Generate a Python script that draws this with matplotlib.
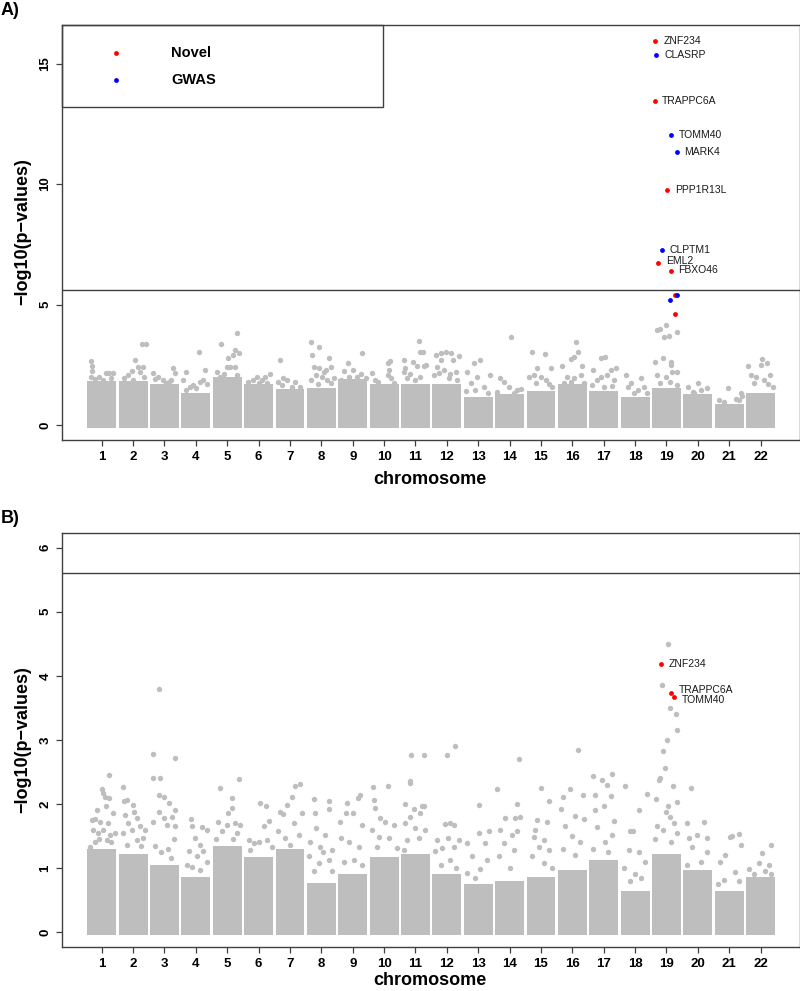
import matplotlib
matplotlib.use("Agg")
import matplotlib.pyplot as plt
from matplotlib.patches import Rectangle

plt.rcParams['font.family'] = ['Liberation Sans', 'DejaVu Sans']

# ---------------- data ----------------
chromosomes = list(range(1, 23))
threshold = 5.6

# Panel A: height of the dense (solid) part of each chromosome's cloud
a_band = [1.73, 1.73, 1.59, 1.24, 1.87, 1.59, 1.38, 1.45, 1.80, 1.59, 1.59,
          1.59, 1.04, 1.18, 1.31, 1.59, 1.31, 1.04, 1.45, 1.18, 0.76, 1.24]
# Panel A: scattered grey points above the dense part (offset within chromosome, -log10 p)
a_scatter = {
    1: [(-0.35, 2.67), (-0.32, 2.45), (-0.3, 2.25), (-0.33, 2.0), (-0.08, 2.0), (0.13, 2.14), (0.24, 2.17),
        (0.35, 2.14), (0.05, 1.87), (-0.2, 1.9), (0.3, 1.95)],
    2: [(0.05, 2.7), (0.27, 3.35), (0.4, 3.35), (-0.3, 1.94), (-0.16, 2.07), (-0.05, 2.25), (0.16, 2.4),
        (0.3, 2.4), (0.34, 2.0), (0.0, 1.87), (0.22, 2.2)],
    3: [(-0.36, 2.14), (-0.2, 2.0), (-0.04, 1.87), (0.06, 1.73), (0.28, 2.35), (0.33, 2.14), (0.22, 1.87),
        (-0.3, 1.9), (0.15, 1.8)],
    4: [(-0.32, 2.2), (0.1, 3.04), (0.29, 2.28), (-0.4, 1.87), (-0.09, 1.66), (0.13, 1.8), (0.23, 1.87),
        (-0.19, 1.59), (0.02, 1.52), (0.35, 1.7), (-0.3, 1.45)],
    5: [(-0.21, 3.37), (0.32, 3.8), (0.24, 3.1), (0.38, 3.0), (0.03, 2.8), (0.17, 2.9), (-0.34, 2.2),
        (-0.02, 2.4), (0.1, 2.4), (0.24, 2.4), (0.3, 2.07), (-0.23, 2.0), (-0.1, 2.1)],
    6: [(-0.06, 2.0), (0.2, 2.0), (0.36, 2.1), (-0.33, 1.8), (-0.17, 1.87), (0.1, 1.87), (0.26, 1.73), (0.0, 1.75)],
    7: [(-0.32, 2.7), (-0.21, 1.94), (-0.37, 1.8), (-0.1, 1.87), (0.16, 1.8), (0.32, 1.59), (0.05, 1.59),
        (-0.25, 1.65)],
    8: [(-0.34, 3.43), (-0.07, 3.25), (-0.29, 2.9), (0.24, 2.77), (-0.23, 2.4), (-0.07, 2.35), (0.14, 2.28),
        (0.3, 2.4), (0.4, 1.94), (-0.18, 2.07), (0.03, 2.0), (0.19, 1.87), (-0.34, 1.87), (0.1, 2.2),
        (-0.12, 1.7), (0.3, 1.75)],
    9: [(-0.15, 2.59), (0.31, 3.0), (-0.28, 2.25), (0.02, 2.28), (0.15, 2.0), (0.41, 1.94), (-0.38, 1.87),
        (-0.12, 2.0), (0.25, 2.1)],
    10: [(-0.39, 2.17), (0.11, 2.56), (0.19, 2.67), (0.14, 2.07), (0.21, 1.94), (-0.18, 1.8), (0.3, 1.73),
         (-0.3, 1.85), (0.17, 2.3)],
    11: [(0.11, 3.49), (0.16, 3.04), (0.24, 3.04), (-0.37, 2.7), (-0.07, 2.6), (0.05, 2.45), (0.27, 2.45),
         (0.35, 2.48), (-0.32, 2.35), (-0.16, 2.1), (0.16, 2.0), (-0.27, 1.94), (-0.35, 2.2), (0.0, 1.85)],
    12: [(-0.36, 2.9), (-0.2, 2.97), (-0.04, 3.04), (0.14, 3.0), (0.2, 2.7), (0.38, 2.85), (-0.2, 2.7),
         (-0.31, 2.4), (-0.1, 2.28), (0.28, 2.2), (-0.41, 2.07), (0.06, 1.94), (0.33, 1.87), (-0.25, 2.15),
         (0.1, 2.1)],
    13: [(0.07, 2.7), (-0.14, 2.56), (-0.35, 2.2), (-0.03, 2.0), (0.37, 2.07), (-0.24, 1.73), (0.18, 1.59),
         (-0.09, 1.45), (0.3, 1.35), (-0.38, 1.4)],
    14: [(0.06, 3.64), (-0.29, 1.94), (-0.18, 1.8), (-0.02, 1.59), (0.24, 1.45), (-0.39, 1.38), (0.14, 1.31),
         (0.35, 1.5)],
    15: [(-0.28, 3.04), (0.12, 2.94), (-0.12, 2.35), (0.31, 2.35), (-0.38, 2.0), (-0.22, 2.07), (-0.01, 2.0),
         (0.15, 1.87), (0.36, 1.59), (-0.17, 1.73), (0.25, 1.7)],
    16: [(0.11, 3.46), (0.19, 3.04), (-0.03, 2.73), (0.05, 2.84), (-0.32, 2.45), (0.32, 2.45), (-0.16, 2.0),
         (0.05, 1.94), (0.27, 2.07), (-0.27, 1.73), (0.37, 1.73), (-0.05, 1.8)],
    17: [(-0.1, 2.77), (0.03, 2.84), (-0.33, 2.28), (0.22, 2.3), (0.38, 2.35), (-0.1, 2.0), (0.12, 2.07),
         (-0.2, 1.87), (0.33, 1.87), (-0.36, 1.66), (0.01, 1.59), (0.25, 1.6)],
    18: [(-0.3, 2.07), (-0.14, 1.73), (0.2, 1.94), (0.27, 1.59), (0.1, 1.45), (0.39, 1.31), (-0.03, 1.31),
         (-0.24, 1.59)],
    19: [(-0.31, 3.94), (-0.2, 3.97), (-0.02, 4.15), (-0.07, 3.67), (0.09, 3.7), (0.33, 3.87), (-0.1, 2.8),
         (0.14, 2.63), (-0.37, 2.6), (0.16, 2.5), (0.19, 2.2), (0.33, 2.2), (-0.29, 2.07), (-0.02, 2.0),
         (0.35, 1.66), (-0.2, 1.75), (0.1, 1.8)],
    20: [(-0.31, 1.59), (-0.01, 1.73), (0.29, 1.52), (-0.17, 1.38), (0.1, 1.45), (-0.12, 1.31)],
    21: [(-0.05, 1.52), (0.37, 1.31), (-0.32, 1.04), (0.21, 1.1), (-0.16, 0.97), (0.32, 1.04), (0.4, 1.2)],
    22: [(0.03, 2.75), (0.2, 2.56), (0.01, 2.5), (-0.39, 2.45), (0.31, 2.07), (-0.31, 2.07), (-0.15, 2.0),
         (0.12, 1.87), (0.38, 1.59), (-0.2, 1.73), (0.25, 1.7)],
}

# Panel A highlighted SNPs (all on chromosome 19)
a_novel_chr = [19, 19, 19, 19, 19, 19, 19]
a_novel_off = [-0.35, -0.38, 0.03, -0.27, 0.14, 0.26, 0.27]
a_novel_logp = [15.95, 13.44, 9.74, 6.74, 6.39, 5.39, 4.59]
a_novel_gene = ["ZNF234", "TRAPPC6A", "PPP1R13L", "EML2", "FBXO46", "", ""]

a_gwas_chr = [19, 19, 19, 19, 19, 19]
a_gwas_off = [-0.32, 0.14, 0.32, -0.14, 0.33, 0.12]
a_gwas_logp = [15.35, 12.03, 11.34, 7.26, 5.39, 5.19]
a_gwas_gene = ["CLASRP", "TOMM40", "MARK4", "CLPTM1", "", ""]

# Panel B
b_band = [1.26, 1.18, 1.00, 0.81, 1.30, 1.13, 1.26, 0.73, 0.86, 1.13, 1.18,
          0.86, 0.71, 0.76, 0.81, 0.92, 1.08, 0.60, 1.18, 0.92, 0.60, 0.81]
b_scatter = {
    1: [(-0.32, 1.75), (-0.21, 1.76), (-0.05, 1.72), (0.0, 2.23), (0.03, 2.17), (0.11, 2.11), (0.24, 2.09),
        (-0.16, 1.9), (0.14, 1.97), (0.37, 1.85), (0.21, 1.7), (-0.27, 1.59), (-0.11, 1.54), (0.05, 1.59),
        (0.27, 1.52), (0.43, 1.54), (-0.21, 1.41), (0.16, 1.44), (-0.37, 1.33), (0.23, 2.45), (-0.1, 1.45),
        (0.3, 1.4)],
    2: [(-0.33, 2.27), (-0.29, 2.05), (-0.2, 2.06), (0.01, 1.98), (0.03, 1.88), (-0.26, 1.83), (0.12, 1.78),
        (-0.15, 1.7), (0.22, 1.65), (0.38, 1.59), (-0.04, 1.59), (-0.31, 1.54), (0.12, 1.44), (0.33, 1.46),
        (-0.2, 1.36), (0.25, 1.35)],
    3: [(-0.16, 3.79), (-0.37, 2.78), (0.34, 2.71), (-0.14, 2.4), (-0.37, 2.4), (-0.17, 2.14), (-0.03, 2.11),
        (0.13, 2.02), (-0.19, 1.88), (-0.03, 1.78), (0.34, 1.9), (0.23, 1.8), (-0.35, 1.72), (0.07, 1.67),
        (0.34, 1.65), (-0.3, 1.35), (0.1, 1.3), (0.3, 1.45), (-0.1, 1.25), (0.2, 1.15)],
    4: [(-0.16, 1.76), (-0.13, 1.65), (0.19, 1.64), (0.35, 1.59), (-0.02, 1.46), (0.14, 1.36), (-0.23, 1.26),
        (0.24, 1.26), (0.03, 1.18), (-0.29, 1.05), (0.35, 1.1), (-0.13, 1.02), (0.14, 0.97)],
    5: [(0.39, 2.39), (-0.22, 2.25), (0.15, 2.09), (0.15, 1.93), (0.04, 1.85), (-0.28, 1.71), (-0.01, 1.67),
        (0.26, 1.7), (0.41, 1.67), (-0.17, 1.57), (0.31, 1.54), (-0.35, 1.45), (0.2, 1.45)],
    6: [(0.03, 2.02), (0.24, 1.97), (-0.32, 1.44), (0.16, 1.65), (0.32, 1.74), (-0.16, 1.39), (0.0, 1.41),
        (0.27, 1.44), (-0.27, 1.28), (0.43, 1.33)],
    7: [(0.15, 2.28), (0.33, 2.31), (0.06, 2.11), (-0.1, 1.98), (-0.33, 1.88), (-0.22, 1.84), (-0.37, 1.57),
        (0.12, 1.7), (0.38, 1.85), (-0.15, 1.46), (0.28, 1.52), (0.01, 1.36)],
    8: [(-0.22, 2.08), (0.23, 2.05), (-0.19, 1.85), (0.23, 1.92), (-0.16, 1.62), (0.13, 1.52), (-0.35, 1.41),
        (-0.03, 1.33), (0.34, 1.28), (-0.4, 1.18), (-0.09, 1.07), (0.23, 1.13), (0.05, 1.25), (-0.25, 0.95),
        (0.35, 0.95)],
    9: [(0.24, 2.14), (0.16, 2.09), (-0.18, 2.01), (-0.39, 1.72), (-0.2, 1.86), (0.01, 1.85), (0.3, 1.67),
        (-0.37, 1.46), (-0.13, 1.41), (0.19, 1.33), (0.03, 1.13), (-0.29, 1.1), (0.3, 1.05)],
    10: [(0.12, 2.28), (-0.35, 2.27), (-0.33, 2.06), (-0.28, 1.93), (-0.12, 1.78), (0.04, 1.72), (0.31, 1.67),
         (-0.38, 1.6), (-0.17, 1.49), (0.15, 1.46), (0.41, 1.31), (-0.22, 1.33)],
    11: [(-0.13, 2.76), (0.26, 2.76), (-0.19, 2.32), (-0.16, 2.35), (-0.33, 2.0), (-0.06, 1.92), (0.2, 1.96),
         (0.26, 1.97), (-0.17, 1.8), (0.15, 1.85), (-0.33, 1.7), (0.0, 1.62), (0.31, 1.59), (-0.27, 1.44),
         (0.1, 1.46), (-0.38, 1.28)],
    12: [(0.0, 2.76), (0.27, 2.9), (-0.05, 1.69), (0.11, 1.7), (0.22, 1.67), (-0.31, 1.44), (0.05, 1.46),
         (0.38, 1.44), (-0.16, 1.31), (0.22, 1.33), (-0.37, 1.26), (0.11, 1.13), (-0.2, 1.05), (0.3, 1.0)],
    13: [(0.01, 1.98), (-0.36, 1.39), (0.01, 1.54), (0.33, 1.57), (0.22, 1.39), (-0.2, 1.18), (0.07, 0.99),
         (0.28, 1.13), (-0.36, 0.92), (-0.1, 0.85)],
    14: [(-0.4, 2.24), (0.29, 2.7), (0.23, 2.0), (-0.14, 1.78), (0.18, 1.78), (0.34, 1.8), (-0.3, 1.59),
         (0.08, 1.52), (0.23, 1.57), (-0.19, 1.39), (0.13, 1.28), (-0.35, 1.18), (0.0, 1.0)],
    15: [(0.27, 2.04), (0.0, 2.25), (-0.13, 1.75), (0.19, 1.71), (-0.18, 1.59), (-0.23, 1.49), (0.09, 1.44),
         (-0.07, 1.33), (0.24, 1.28), (-0.28, 1.18), (0.09, 1.07), (0.35, 1.0)],
    16: [(0.18, 2.84), (-0.09, 2.23), (-0.29, 2.11), (0.33, 2.14), (-0.35, 1.92), (0.1, 1.81), (0.36, 1.76),
         (-0.22, 1.65), (0.0, 1.5), (0.25, 1.4), (-0.3, 1.3), (0.1, 1.2)],
    17: [(-0.34, 2.43), (-0.05, 2.37), (0.27, 2.47), (0.11, 2.29), (-0.27, 2.14), (0.22, 2.12), (0.0, 1.96),
         (-0.28, 1.91), (0.32, 1.73), (-0.21, 1.64), (0.27, 1.51), (0.05, 1.4), (-0.35, 1.3), (0.15, 1.25)],
    18: [(-0.33, 2.28), (0.39, 2.15), (0.14, 1.9), (-0.15, 1.57), (-0.07, 1.57), (-0.2, 1.28), (0.12, 1.25),
         (0.3, 1.1), (-0.35, 1.0), (0.0, 0.9), (0.2, 0.85), (-0.15, 0.8)],
    19: [(0.05, 4.49), (-0.13, 3.85), (0.11, 3.49), (0.3, 3.41), (0.34, 3.15), (0.02, 3.0), (-0.11, 2.82),
         (-0.06, 2.56), (-0.21, 2.41), (-0.23, 2.38), (0.21, 2.28), (-0.32, 2.08), (0.32, 2.03), (0.04, 1.97),
         (0.0, 1.88), (0.1, 1.8), (-0.3, 1.65), (0.25, 1.7), (-0.1, 1.6), (0.35, 1.55), (-0.35, 1.45),
         (0.15, 1.4)],
    20: [(-0.21, 2.25), (0.19, 1.72), (0.28, 1.46), (-0.34, 1.7), (-0.02, 1.52), (-0.29, 1.46), (0.3, 1.25),
         (-0.18, 1.33), (0.1, 1.1), (-0.35, 1.05)],
    21: [(0.01, 1.49), (0.1, 1.5), (0.31, 1.53), (0.36, 1.36), (-0.12, 1.2), (-0.3, 1.09), (0.17, 0.94),
         (-0.17, 0.81), (0.3, 0.8), (-0.35, 0.75)],
    22: [(0.32, 1.36), (0.05, 1.23), (0.27, 1.04), (-0.37, 0.99), (-0.21, 0.91), (0.34, 0.91), (-0.05, 1.07),
         (0.15, 0.95)],
}

b_novel_chr = [19, 19, 19]
b_novel_off = [-0.19, 0.13, 0.23]
b_novel_logp = [4.19, 3.73, 3.67]
b_novel_gene = ["ZNF234", "TRAPPC6A", "TOMM40"]

# ---------------- style ----------------
GREY = "#bebebe"
RED = "#ff0000"
BLUE = "#0000ff"
LINE = "#404040"
DOT_S = 15
HIT_S = 12
W, H = 800, 991

fig = plt.figure(figsize=(W / 100, H / 100), dpi=100)


def frac_x(px):
    return px / W


def frac_y(py):
    return 1 - py / H


axA = fig.add_axes([frac_x(62), frac_y(440), (799.5 - 62) / W, (440 - 25) / H])
axB = fig.add_axes([frac_x(62), frac_y(946.7), (799.5 - 62) / W, (946.7 - 533) / H])


def draw_panel(ax, band, scatter, ylim, yticks, r_data):
    ax.set_xlim(-0.266, 23.24)
    ax.set_ylim(*ylim)
    # dense part of each chromosome cloud
    ax.bar(chromosomes, [h + 2 * r_data for h in band], bottom=-r_data, width=0.92,
           color=GREY, linewidth=0, zorder=1)
    xs, ys = [], []
    for c in chromosomes:
        for off, v in scatter.get(c, []):
            xs.append(c + off)
            ys.append(v)
    ax.scatter(xs, ys, s=DOT_S, color=GREY, linewidths=0, zorder=2)
    ax.axhline(threshold, color=LINE, lw=1.0, zorder=3)
    ax.set_xticks(chromosomes)
    ax.set_xticklabels([str(c) for c in chromosomes])
    ax.set_yticks(yticks)
    ax.set_yticklabels([str(t) for t in yticks], rotation=90, va='center')
    ax.tick_params(axis='both', direction='out', length=4, width=0.9, color=LINE,
                   labelsize=9.5, pad=3.5)
    ax.tick_params(axis='x', pad=4)
    for lab in ax.get_xticklabels() + ax.get_yticklabels():
        lab.set_fontweight('bold')
    for sp in ax.spines.values():
        sp.set_color(LINE)
        sp.set_linewidth(1.0)


draw_panel(axA, a_band, a_scatter, (-0.62, 16.6), [0, 5, 10, 15], 2.6 / 24.1)
draw_panel(axB, b_band, b_scatter, (-0.23, 6.23), [0, 1, 2, 3, 4, 5, 6], 2.6 / 64.05)

# highlighted SNPs, panel A
axA.scatter([c + o for c, o in zip(a_novel_chr, a_novel_off)], a_novel_logp, s=HIT_S, color=RED,
            linewidths=0, zorder=4)
axA.scatter([c + o for c, o in zip(a_gwas_chr, a_gwas_off)], a_gwas_logp, s=HIT_S, color=BLUE,
            linewidths=0, zorder=4)
a_lab_dy = {"EML2": 1.5, "FBXO46": 0.5}
for c, o, v, g in list(zip(a_novel_chr, a_novel_off, a_novel_logp, a_novel_gene)) + \
        list(zip(a_gwas_chr, a_gwas_off, a_gwas_logp, a_gwas_gene)):
    if g:
        axA.annotate(g, (c + o, v), xytext=(5.5, a_lab_dy.get(g, 0)), textcoords='offset points',
                     ha='left', va='center', fontsize=7.5, color='#1a1a1a', zorder=5)

# highlighted SNPs, panel B
axB.scatter([c + o for c, o in zip(b_novel_chr, b_novel_off)], b_novel_logp, s=HIT_S, color=RED,
            linewidths=0, zorder=4)
b_lab_dx = {"ZNF234": 5.5, "TRAPPC6A": 5.8, "TOMM40": 6.0}
b_lab_dy = {"ZNF234": 0, "TRAPPC6A": 2.5, "TOMM40": -2.0}
for c, o, v, g in zip(b_novel_chr, b_novel_off, b_novel_logp, b_novel_gene):
    axB.annotate(g, (c + o, v), xytext=(b_lab_dx[g], b_lab_dy[g]), textcoords='offset points',
                 ha='left', va='center', fontsize=7.5, color='#1a1a1a', zorder=5)

# legend box in panel A
axA.add_patch(Rectangle((0, 1 - 0.1976), 0.4356, 0.1976, transform=axA.transAxes,
                        fill=False, edgecolor=LINE, lw=1.0, zorder=6, clip_on=False))
axA.scatter([0.0733], [0.9325], s=HIT_S, color=RED, transform=axA.transAxes, zorder=6, linewidths=0)
axA.scatter([0.0733], [0.8675], s=HIT_S, color=BLUE, transform=axA.transAxes, zorder=6, linewidths=0)
axA.text(0.148, 0.9325, "Novel", transform=axA.transAxes, ha='left', va='center',
         fontsize=10.5, fontweight='bold', zorder=6)
axA.text(0.148, 0.8675, "GWAS", transform=axA.transAxes, ha='left', va='center',
         fontsize=10.5, fontweight='bold', zorder=6)

# axis titles and panel letters
for yc in (232, 740):
    fig.text(frac_x(23), frac_y(yc), "\u2212log10(p\u2212values)", rotation=90, ha='center',
             va='center', fontsize=13, fontweight='bold')
fig.text(frac_x(430), frac_y(484), "chromosome", ha='center', va='baseline', fontsize=13,
         fontweight='bold')
fig.text(frac_x(430), frac_y(985), "chromosome", ha='center', va='baseline', fontsize=13,
         fontweight='bold')
fig.text(frac_x(1), frac_y(15), "A)", ha='left', va='baseline', fontsize=13, fontweight='bold')
fig.text(frac_x(1), frac_y(523), "B)", ha='left', va='baseline', fontsize=13, fontweight='bold')

fig.savefig("out.png", dpi=100)
